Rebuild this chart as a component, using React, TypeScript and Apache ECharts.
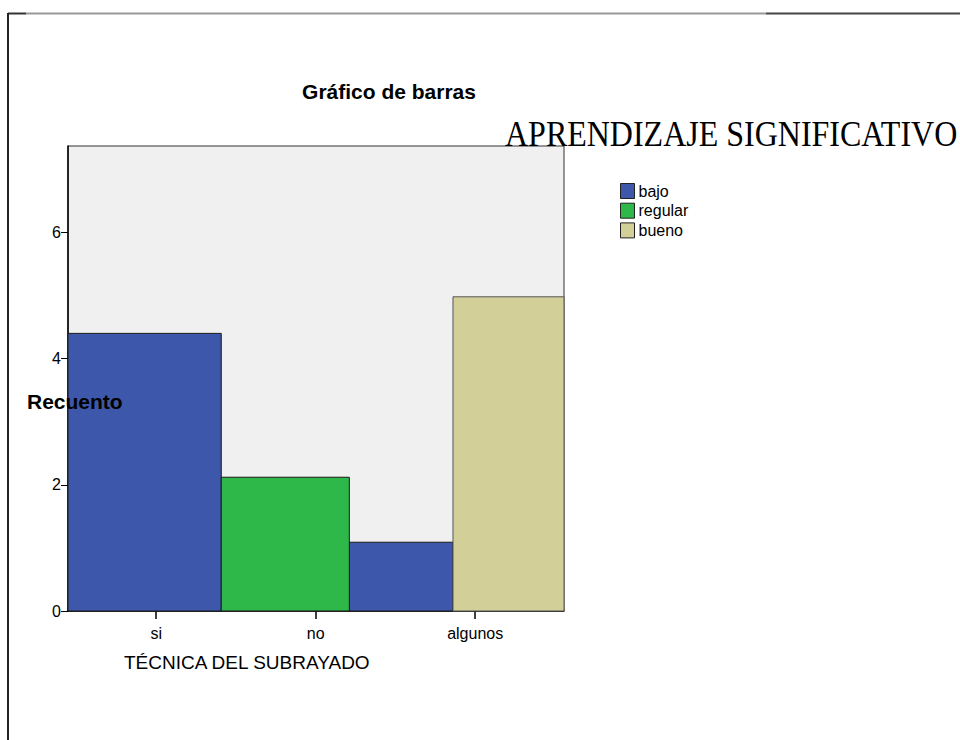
import React, { useEffect, useRef } from "react";
import * as echarts from "echarts";

const categories = ["si", "no", "algunos"];
const seriesNames = ["bajo", "regular", "bueno"];
const seriesColors = ["#3D57AA", "#2EB84A", "#D3CF98"];
const seriesBorders = ["#1a1a1a", "#1a1a1a", "#555555"];
// bars: [left edge, right edge, count] in x-axis units (categories at 0,1,2)
const bajoBars = [
  [-0.553, 0.408, 4.4],
  [1.211, 1.861, 1.09],
];
const regularBars = [[0.408, 1.211, 2.12]];
const buenoBars = [[1.861, 2.557, 4.98]];
const yTicks = [0, 2, 4, 6];
const xTicks = [0, 1, 2];

export default function App() {
  const ref = useRef<HTMLDivElement>(null);
  useEffect(() => {
    const chart = echarts.init(ref.current!, null, { renderer: "svg" });
    const renderItem = (params: any, api: any) => {
      const x0 = api.value(0);
      const x1 = api.value(1);
      const v = api.value(2);
      const p0 = api.coord([x0, v]);
      const p1 = api.coord([x1, 0]);
      return {
        type: "rect",
        shape: { x: p0[0], y: p0[1], width: p1[0] - p0[0], height: p1[1] - p0[1] },
        style: {
          fill: seriesColors[params.seriesIndex],
          stroke: seriesBorders[params.seriesIndex],
          lineWidth: 1,
        },
      };
    };
    const allBars = [bajoBars, regularBars, buenoBars];
    chart.setOption({
      animation: false,
      title: {
        text: "Gráfico de barras",
        left: 384,
        top: 76,
        textAlign: "center",
        textStyle: { fontFamily: "Liberation Sans, Arial", fontWeight: "bold", fontSize: 21, color: "#000" },
      },
      legend: {
        orient: "vertical",
        left: 620,
        top: 183,
        padding: 0,
        itemWidth: 14,
        itemHeight: 15,
        itemGap: 3.7,
        selectedMode: false,
        textStyle: { fontFamily: "Liberation Sans, Arial", fontSize: 16, color: "#000", padding: [0, 0, 0, -1] },
        data: seriesNames.map((n, i) => ({
          name: n,
          icon: "rect",
          itemStyle: { color: seriesColors[i], borderColor: "#222", borderWidth: 1 },
        })),
      },
      grid: {
        left: 68,
        right: 396,
        top: 146,
        bottom: 129,
        show: true,
        backgroundColor: "#F0F0F0",
        borderColor: "#333",
        borderWidth: 1,
      },
      xAxis: {
        type: "value",
        min: -0.553,
        max: 2.557,
        splitLine: { show: false },
        axisLine: { show: true, onZero: false, lineStyle: { color: "#000", width: 1.5 } },
        axisTick: { show: true, customValues: xTicks, length: 8, lineStyle: { color: "#000", width: 1.5 } },
        axisLabel: {
          customValues: xTicks,
          margin: 14,
          fontFamily: "Liberation Sans, Arial",
          fontSize: 16,
          color: "#000",
          formatter: (v: number) => categories[Math.round(v)] ?? "",
        },
      },
      yAxis: {
        type: "value",
        min: 0,
        max: 7.37,
        splitLine: { show: false },
        axisLine: { show: true, onZero: false, lineStyle: { color: "#000", width: 1.5 } },
        axisTick: { show: true, customValues: yTicks, length: 7, lineStyle: { color: "#000", width: 1 } },
        axisLabel: {
          customValues: yTicks,
          margin: 7,
          fontFamily: "Liberation Sans, Arial",
          fontSize: 16,
          color: "#000",
          formatter: (v: number) => String(Math.round(v)),
        },
      },
      series: seriesNames.map((n, i) => ({
        name: n,
        type: "custom",
        renderItem,
        itemStyle: { color: seriesColors[i] },
        encode: { x: [0, 1], y: 2 },
        data: allBars[i],
      })),
      graphic: [
        { type: "line", z: 100, shape: { x1: 8, y1: 13.5, x2: 26, y2: 13.5 }, style: { stroke: "#333", lineWidth: 2 } },
        { type: "line", z: 100, shape: { x1: 26, y1: 13.5, x2: 766, y2: 13.5 }, style: { stroke: "#999", lineWidth: 2 } },
        { type: "line", z: 100, shape: { x1: 766, y1: 13.5, x2: 960, y2: 13.5 }, style: { stroke: "#444", lineWidth: 2 } },
        { type: "line", z: 100, shape: { x1: 8, y1: 13, x2: 8, y2: 740 }, style: { stroke: "#222", lineWidth: 2 } },
        {
          type: "text",
          z: 100,
          x: 505,
          y: 134,
          scaleY: 1.1,
          style: {
            text: "APRENDIZAJE SIGNIFICATIVO",
            fontFamily: "Liberation Serif, Times New Roman, serif",
            fontSize: 32,
            fill: "#000",
            verticalAlign: "middle",
            align: "left",
          },
        },
        {
          type: "text",
          z: 100,
          x: 27,
          y: 401,
          style: {
            text: "Recuento",
            fontFamily: "Liberation Sans, Arial",
            fontWeight: "bold",
            fontSize: 21,
            fill: "#000",
            verticalAlign: "middle",
            align: "left",
          },
        },
        {
          type: "text",
          z: 100,
          x: 124,
          y: 662.5,
          style: {
            text: "TÉCNICA DEL SUBRAYADO",
            fontFamily: "Liberation Sans, Arial",
            fontSize: 19,
            fill: "#000",
            verticalAlign: "middle",
            align: "left",
          },
        },
      ],
    });
    return () => chart.dispose();
  }, []);
  return (
    <div
      ref={ref}
      style={{ position: "fixed", left: 0, top: 0, width: 960, height: 740, background: "#fff" }}
    />
  );
}
